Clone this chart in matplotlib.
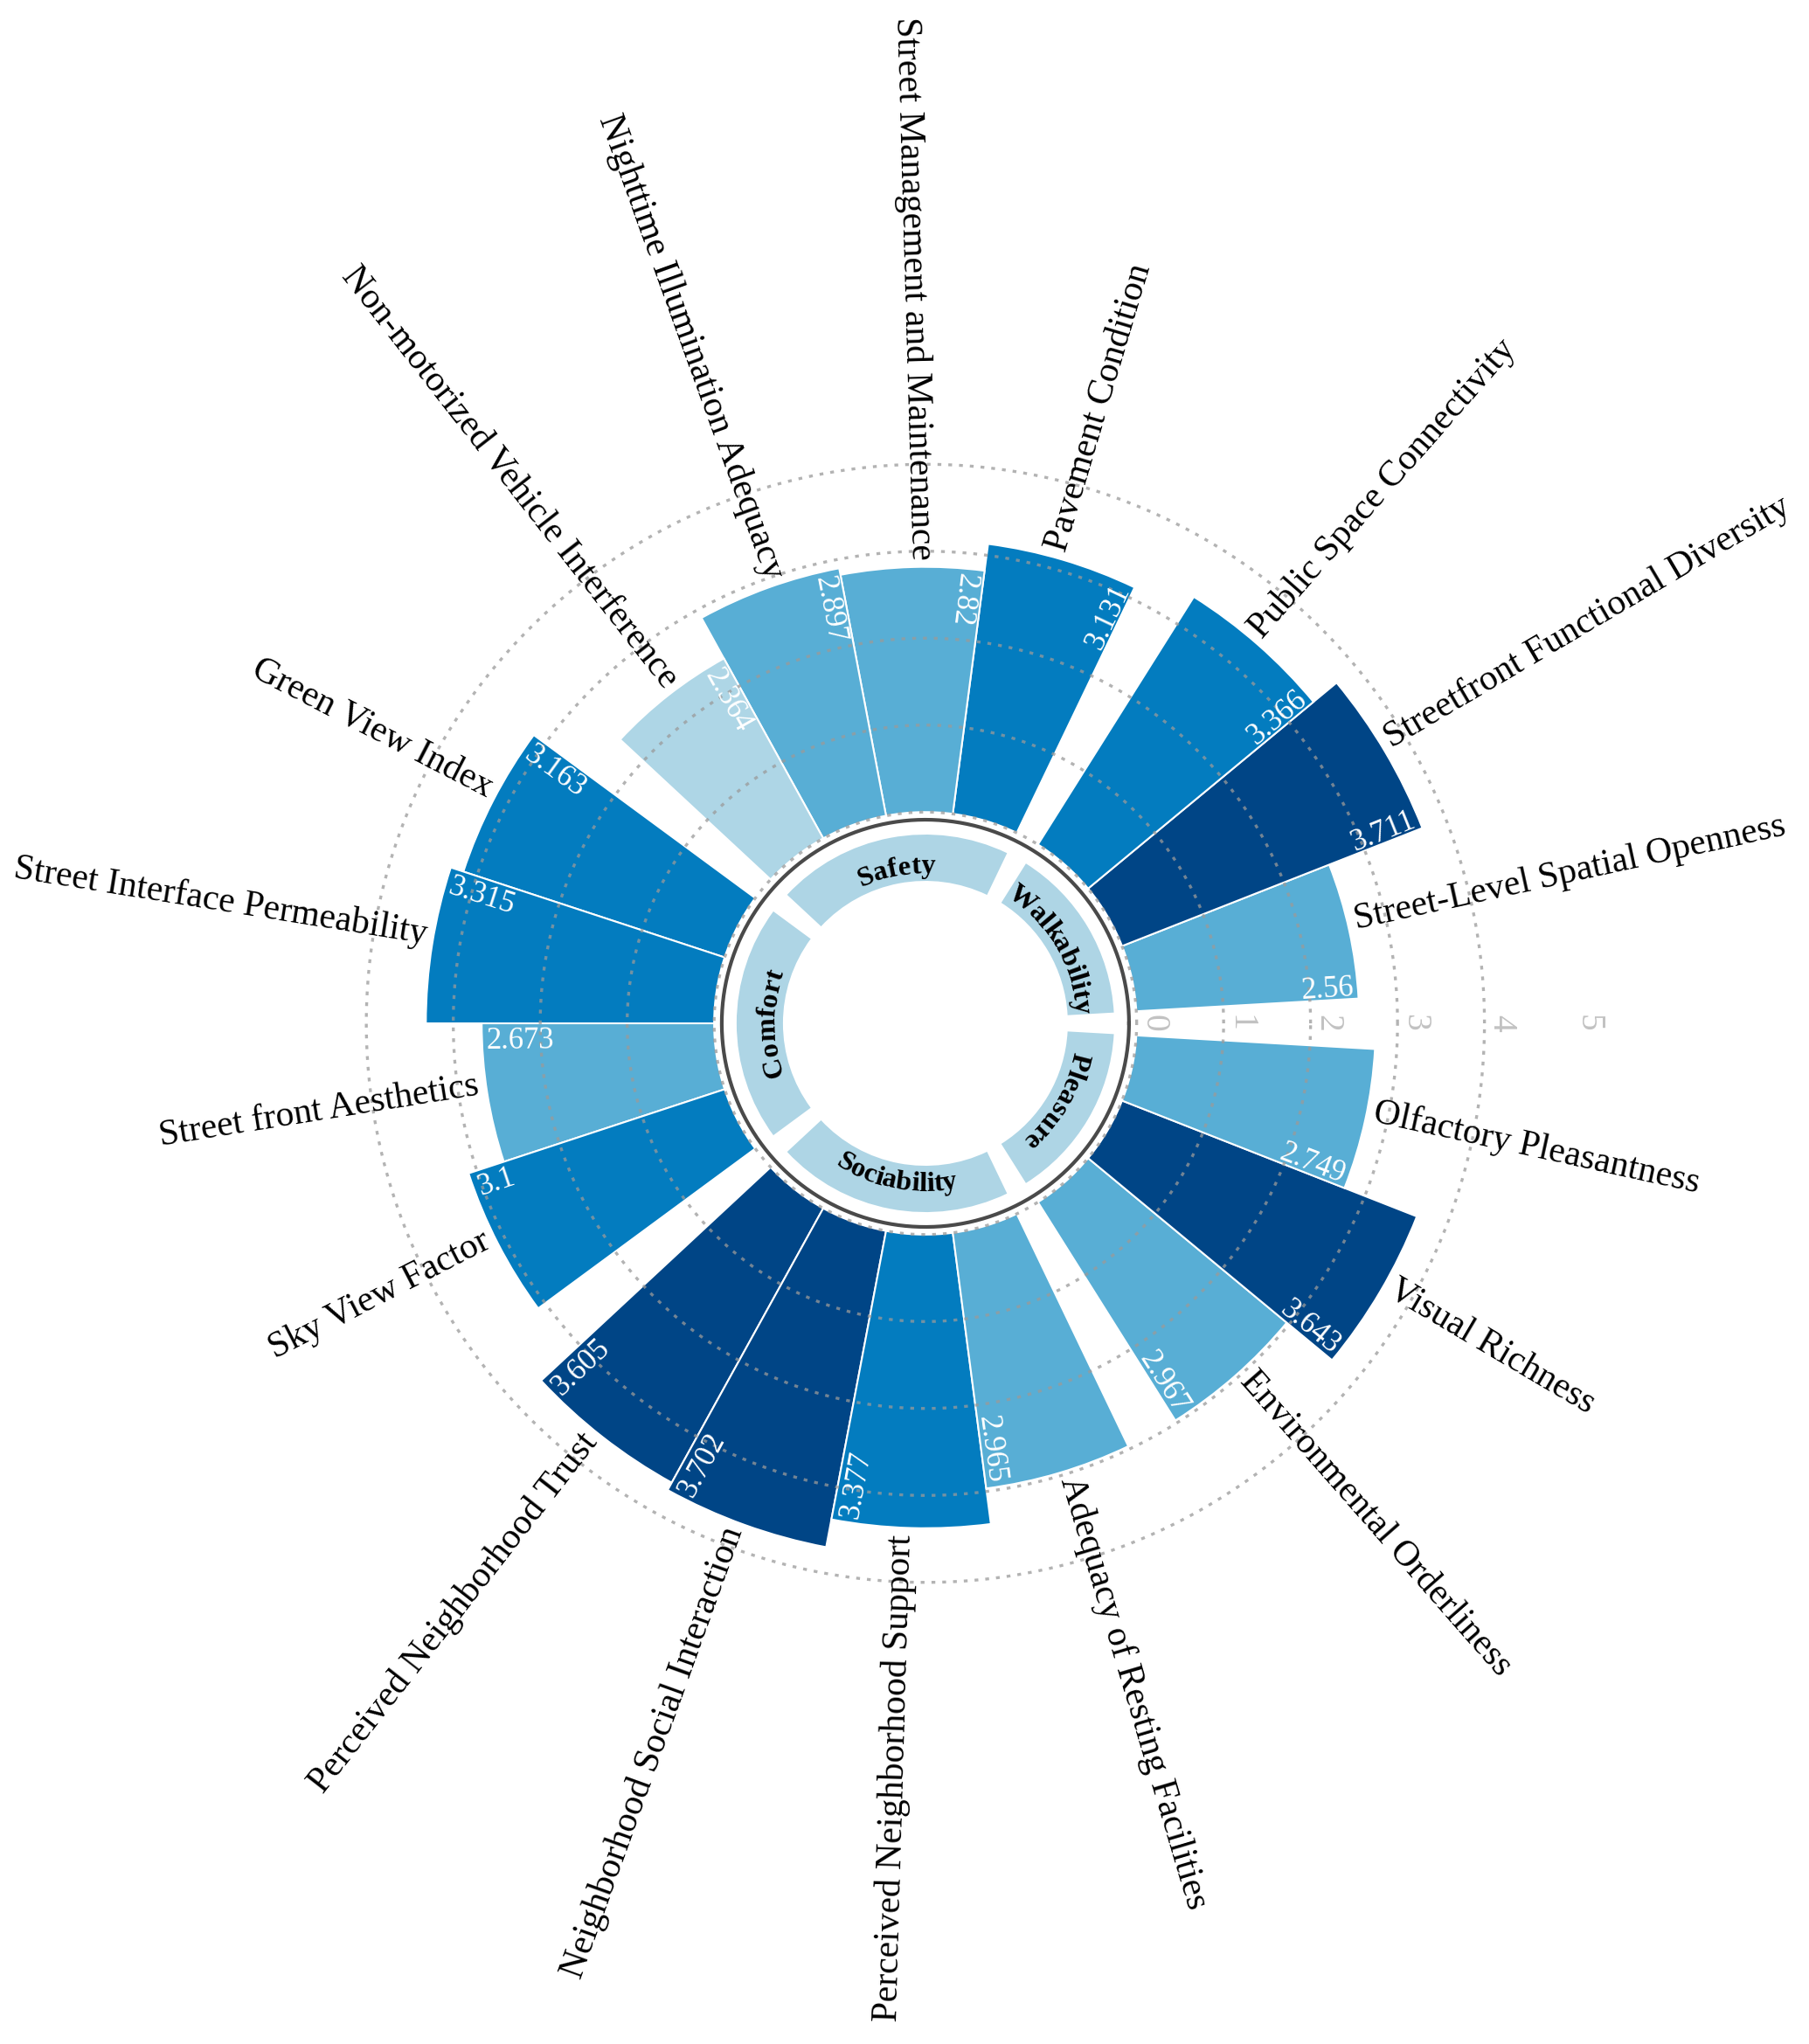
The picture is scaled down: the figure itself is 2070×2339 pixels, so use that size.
import numpy as np
import matplotlib
matplotlib.use("Agg")
import matplotlib.pyplot as plt
from matplotlib.font_manager import FontProperties

plt.rcParams['font.family'] = ['Liberation Serif', 'DejaVu Serif']

# groups, counter-clockwise from 3 o'clock
groups = ["Walkability", "Safety", "Comfort", "Sociability", "Pleasure"]

walkability = ["Street-Level Spatial Openness", "Streetfront Functional Diversity",
               "Public Space Connectivity"]
walkability_vals = [2.56, 3.711, 3.366]

safety = ["Pavement Condition", "Street Management and Maintenance",
          "Nighttime Illumination Adequacy", "Non-motorized Vehicle Interference"]
safety_vals = [3.131, 2.82, 2.897, 2.364]

comfort = ["Green View Index", "Street Interface Permeability",
           "Street front Aesthetics", "Sky View Factor"]
comfort_vals = [3.163, 3.315, 2.673, 3.1]

sociability = ["Perceived Neighborhood Trust", "Neighborhood Social Interaction",
               "Perceived Neighborhood Support", "Adequacy of Resting Facilities"]
sociability_vals = [3.605, 3.702, 3.377, 2.965]

pleasure = ["Environmental Orderliness", "Visual Richness", "Olfactory Pleasantness"]
pleasure_vals = [2.967, 3.643, 2.749]

rticks = [0, 1, 2, 3, 4, 5]

group_labels = [walkability, safety, comfort, sociability, pleasure]
group_vals = [walkability_vals, safety_vals, comfort_vals, sociability_vals, pleasure_vals]


def bar_color(v):
    if v < 2.5:
        return '#aed6e6'
    if v < 3.0:
        return '#58aed5'
    if v < 3.5:
        return '#037cbf'
    return '#004586'


# angular layout (degrees)
n_bars = sum(len(g) for g in group_vals)
W = 18.18
GAP = (360 - n_bars * W) / len(groups)

starts, labels, values, g_start, g_end = [], [], [], [], []
a = GAP / 2
for labs, vals in zip(group_labels, group_vals):
    g_start.append(a)
    for lab, v in zip(labs, vals):
        starts.append(a)
        labels.append(lab)
        values.append(v)
        a += W
    g_end.append(a)
    a += GAP
starts = np.array(starts)
centers = starts + W / 2

# figure
fig = plt.figure(figsize=(6.9, 2339 / 300), dpi=300)
LO, HI = -2.43, 5.5
ax = fig.add_axes([0.1304, 0.1620, 0.7623, 0.6747], projection='polar')
ax.set_ylim(LO, HI)
ax.set_xticks([])
ax.set_yticks([])
ax.grid(False)
ax.spines['polar'].set_visible(False)

fig.canvas.draw()
ren = fig.canvas.get_renderer()
R_px = ax.get_window_extent(ren).width / 2
ppu = R_px / (HI - LO)


def px2r(px):
    return LO + px / ppu


# bars
ax.bar(np.radians(starts), values, width=np.radians(W), bottom=0, align='edge',
       color=[bar_color(v) for v in values], edgecolor='white', linewidth=0.5, zorder=2)

# grid circles
tt = np.linspace(0, 2 * np.pi, 720)
for t in rticks[:-1]:
    ax.plot(tt, np.full_like(tt, t), color='#9a9a9a', lw=0.8, ls=(0, (1.3, 2.4)),
            alpha=0.75, zorder=3)

# radial tick labels in the gap at 0 deg
for t in rticks:
    ax.text(0, t + 0.19, str(t), rotation=-90, ha='center', va='center',
            color='#c2c2c2', fontsize=9.5, zorder=4)

# inner dark circle
ax.plot(tt, np.full_like(tt, px2r(233)), color='#4a4a4a', lw=1.0, zorder=3)

# group ring
r_in, r_out = px2r(163), px2r(216)
for s, e in zip(g_start, g_end):
    ax.bar(np.radians(s), r_out - r_in, width=np.radians(e - s), bottom=r_in,
           align='edge', color='#aed5e5', linewidth=0, zorder=2)

# outer labels
for c, lab, v in zip(centers, labels, values):
    if 90 < c < 270:
        rot, ha = c + 180, 'right'
    else:
        rot, ha = c, 'left'
    ax.text(np.radians(c), v + 0.08, lab, rotation=rot, rotation_mode='anchor',
            ha=ha, va='baseline', fontsize=10, color='black', zorder=5)

# value labels along the clockwise edge of each bar
for s, c, v in zip(starts, centers, values):
    t0 = s + 0.4
    if 90 < c < 270:
        ax.text(np.radians(t0), v - 0.05, str(v), rotation=t0 + 180,
                rotation_mode='anchor', ha='left', va='top', fontsize=8.3,
                color='white', zorder=5)
    else:
        ax.text(np.radians(t0), v - 0.05, str(v), rotation=t0,
                rotation_mode='anchor', ha='right', va='baseline', fontsize=8.3,
                color='white', zorder=5)

# curved group names
fp = FontProperties(family='Liberation Serif', weight='bold', size=7.8)


def arc_text(txt, theta_c, clockwise):
    total = ren.get_text_width_height_descent(txt, fp, ismath=False)[0]
    r_mid = 182
    r_px = r_mid - 10 if clockwise else r_mid + 10
    for i, ch in enumerate(txt):
        a0 = ren.get_text_width_height_descent(txt[:i], fp, ismath=False)[0] if i else 0
        a1 = ren.get_text_width_height_descent(txt[:i + 1], fp, ismath=False)[0]
        s = (a0 + a1) / 2 - total / 2
        d = np.degrees(s / r_px)
        if clockwise:
            th, rot = theta_c - d, theta_c - d - 90
        else:
            th, rot = theta_c + d, theta_c + d + 90
        ax.text(np.radians(th), px2r(r_px), ch, rotation=rot, rotation_mode='anchor',
                ha='center', va='baseline', fontproperties=fp, color='black', zorder=5)


for name, s, e in zip(groups, g_start, g_end):
    mid = (s + e) / 2
    # only the bottom group reads upright (counter-clockwise)
    arc_text(name, mid, clockwise=not (235 < mid < 295))

fig.savefig("out.png", dpi=300, facecolor='white')
